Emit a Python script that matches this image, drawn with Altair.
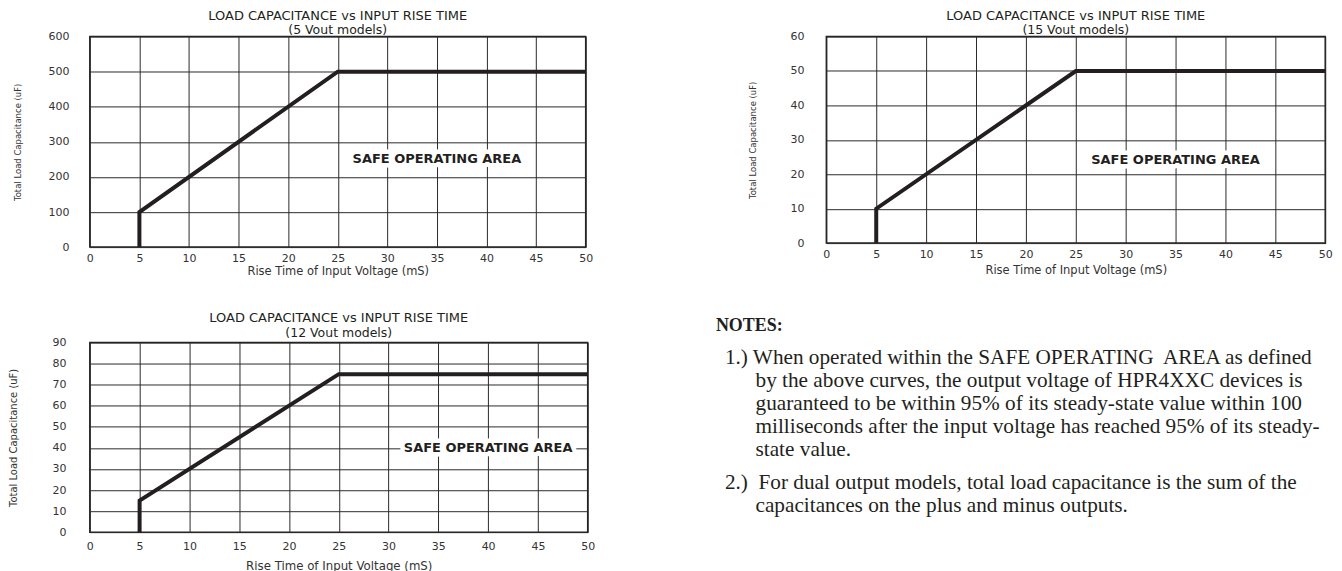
import altair as alt
import pandas as pd

# ---------------- data ----------------
rise_ticks = [0, 5, 10, 15, 20, 25, 30, 35, 40, 45, 50]
rise_pts = [5, 5, 25, 50]

cap5 = [0, 100, 500, 500]
cap5_ticks = [0, 100, 200, 300, 400, 500, 600]

cap15 = [0, 10, 50, 50]
cap15_ticks = [0, 10, 20, 30, 40, 50, 60]

cap12 = [0, 15, 75, 75]
cap12_ticks = [0, 10, 20, 30, 40, 50, 60, 70, 80, 90]

soa_text = "SAFE OPERATING AREA"
soa5 = [35, 250]
soa15 = [35, 24]
soa12 = [40, 40]

TITLE = "LOAD CAPACITANCE vs INPUT RISE TIME"
SUB5 = "(5 Vout models)"
SUB15 = "(15 Vout models)"
SUB12 = "(12 Vout models)"
XTITLE = "Rise Time of Input Voltage (mS)"
YTITLE = "Total Load Capacitance (uF)"

notes_head = "NOTES:"
note1 = [
    "1.) When operated within the SAFE OPERATING\u00a0 AREA as defined",
    "by the above curves, the output voltage of HPR4XXC devices is",
    "guaranteed to be within 95% of its steady-state value within 100",
    "milliseconds after the input voltage has reached 95% of its steady-",
    "state value.",
]
note2 = [
    "2.)\u00a0 For dual output models, total load capacitance is the sum of the",
    "capacitances on the plus and minus outputs.",
]

INK = "#231f20"
SANS = "DejaVu Sans"


def panel(cap, yticks, soa, subtitle, w, h, st):
    df = pd.DataFrame({"rise": rise_pts, "cap": cap, "order": list(range(len(cap)))})
    xenc = alt.X(
        "rise:Q",
        scale=alt.Scale(domain=[0, 50], nice=False, zero=False),
        axis=alt.Axis(
            values=rise_ticks, title=XTITLE, grid=True, ticks=False, tickSize=0,
            domain=False, labelPadding=st["xlp"], titlePadding=st["xtp"],
            labelFontSize=11, titleFontSize=st["xts"], labelFlush=False,
            labelOverlap=False,
        ),
    )
    yenc = alt.Y(
        "cap:Q",
        scale=alt.Scale(domain=[0, yticks[-1]], nice=False, zero=True),
        axis=alt.Axis(
            values=yticks, title=YTITLE, grid=True, ticks=False, tickSize=0,
            domain=False, labelPadding=st["ylp"], titlePadding=st["ytp"],
            labelFontSize=11, titleFontSize=st["yts"], labelFlush=False,
            labelOverlap=False,
        ),
    )
    line = alt.Chart(df).mark_line(color=INK, strokeWidth=4, strokeJoin="miter").encode(
        x=xenc, y=yenc, order="order:Q"
    )
    sdf = pd.DataFrame({"rise": [soa[0]], "cap": [soa[1]], "label": [soa_text]})
    halo = alt.Chart(sdf).mark_text(
        font=SANS, fontSize=13, fontWeight="bold", fill="white", stroke="white",
        strokeWidth=9, strokeJoin="round", baseline="middle", align="center",
    ).encode(x=xenc, y=yenc, text="label:N")
    txt = alt.Chart(sdf).mark_text(
        font=SANS, fontSize=13, fontWeight="bold", color=INK,
        baseline="middle", align="center",
    ).encode(x=xenc, y=yenc, text="label:N")
    return alt.layer(line, halo, txt).properties(
        width=w, height=h,
        title=alt.Title(
            TITLE, subtitle=subtitle, font=SANS, subtitleFont=SANS, fontSize=13,
            subtitleFontSize=12.5, fontWeight="normal", color=INK, subtitleColor=INK,
            anchor="middle", offset=st["toff"], subtitlePadding=st["tsp"],
        ),
    )


c1 = panel(cap5, cap5_ticks, soa5, SUB5, 497, 211,
           dict(xlp=5.4, xtp=2.5, xts=11.5, ylp=21, ytp=25.8, yts=8.5, toff=-6, tsp=1))
c2 = panel(cap15, cap15_ticks, soa15, SUB15, 500, 207,
           dict(xlp=5.3, xtp=5, xts=11.5, ylp=22.4, ytp=32.5, yts=8.5, toff=-6, tsp=1))
c3 = panel(cap12, cap12_ticks, soa12, SUB12, 499, 190,
           dict(xlp=8.5, xtp=8.5, xts=11.8, ylp=24, ytp=33, yts=10, toff=-2.5, tsp=1.75))

# notes block
rows = []
for i, t in enumerate(note1):
    rows.append({"text": t, "px": -101.7 if i == 0 else -71, "py": 15.3 + 23 * i})
for i, t in enumerate(note2):
    rows.append({"text": t, "px": -101.7 if i == 0 else -71, "py": 140.3 + 23 * i})
ndf = pd.DataFrame(rows)
hdf = pd.DataFrame({"text": [notes_head], "px": [-110.7], "py": [-16.7]})

nbody = alt.Chart(ndf).mark_text(
    font="Liberation Serif", fontSize=21.3, color=INK, align="left", baseline="middle"
).encode(
    x=alt.X("px:Q", scale=None, axis=None),
    y=alt.Y("py:Q", scale=None, axis=None),
    text="text:N",
)
nhead = alt.Chart(hdf).mark_text(
    font="Liberation Serif", fontSize=18, fontWeight="bold", color=INK,
    align="left", baseline="middle"
).encode(
    x=alt.X("px:Q", scale=None, axis=None),
    y=alt.Y("py:Q", scale=None, axis=None),
    text="text:N",
)
notes = alt.layer(nbody, nhead).properties(
    width=500, height=190, view=alt.ViewBackground(stroke="transparent")
)

chart = alt.concat(
    c1, c2, c3, notes, columns=2,
    spacing={"row": 95.7, "column": 239.2}, bounds="flush", align="each",
).properties(
    padding={"left": 0, "top": 0, "right": 0, "bottom": 0}
).configure_view(
    stroke=INK, strokeWidth=1.5
).configure_axis(
    gridColor="#2a2a2a", gridWidth=1, gridOpacity=1,
    labelFont=SANS, labelColor="#333333", titleFont=SANS, titleColor="#333333",
    titleFontWeight="normal",
)

chart.save("out.html", embed_options={"renderer": "svg", "actions": False})
